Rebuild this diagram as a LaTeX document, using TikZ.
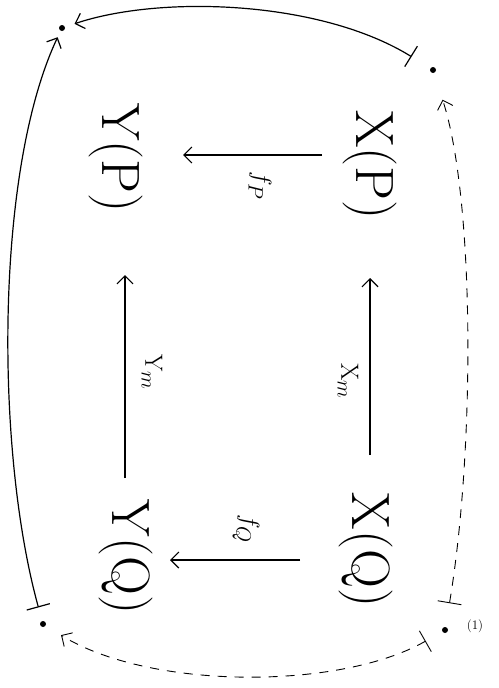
\documentclass[tikz,border=0pt]{standalone}
\usetikzlibrary{arrows.meta,calc}
\begin{document}
\begin{tikzpicture}[x=1pt,y=-1pt,
  obj/.style={font=\fontsize{54}{60}\selectfont, rotate=-90, inner sep=2pt},
  lab/.style={font=\fontsize{28}{32}\selectfont, rotate=-90, inner sep=1pt},
  pt/.style={circle, fill, inner sep=0pt, minimum size=6pt},
  tipA/.style={-{Straight Barb[length=8pt,width=16pt]}},
  arr/.style={line width=1.2pt, tipA},
  maps/.style={line width=1.2pt, {Bar[width=24pt]}-{Straight Barb[length=8pt,width=16pt]}},
  dmaps/.style={maps, line width=0.9pt, dash pattern=on 9pt off 8pt}]
\useasboundingbox (0,0) rectangle (498,688);
% objects
\node[obj] (xp) at (370,165) {X(P)};
\node[obj] (yp) at (116,158) {Y(P)};
\node[obj] (xq) at (366,550) {X(Q)};
\node[obj] (yq) at (126,557) {Y(Q)};
% square arrows
\draw[arr] ($(xp)+(-48,-10)$) -- ($(yp)+(67,-3)$);
\draw[arr] ($(xq)+(-66,10)$) -- ($(yq)+(44,3)$);
\draw[arr] ($(xq)+(4,-95)$) -- ($(xp)+(0,113)$);
\draw[arr] ($(yq)+(-1,-79)$) -- ($(yp)+(9,117)$);
% labels
\node[lab] (lfp) at (260,186) {$f_P$};
\node[lab] (lfq) at (246,529) {$f_Q$};
\node[lab] (lxm) at (348,381) {$\mathrm{X}_m$};
\node[lab] (lym) at (152,372) {$\mathrm{Y}_m$};
% points
\node[pt] (tl) at (62,28) {};
\node[pt] (tr) at (433,70) {};
\node[pt] (br) at (445,630) {};
\node[pt] (bl) at (43,624) {};
\node[font=\fontsize{13}{15}\selectfont, inner sep=1pt] (one) at (475,626) {(1)};
% outer arrows
\draw[maps, shorten <=22pt, shorten >=10pt] (tr) .. controls (320,0) and (160,-5) .. (tl);
\draw[maps, shorten <=14pt, shorten >=7pt] (bl) .. controls (-5,450) and (-5,170) .. (tl);
\draw[dmaps, shorten <=24pt, shorten >=28pt] (br) .. controls (475,450) and (475,200) .. (tr);
\draw[dmaps, shorten <=19pt, shorten >=18pt] (br) .. controls (340,690) and (150,690) .. (bl);
\end{tikzpicture}
\end{document}
